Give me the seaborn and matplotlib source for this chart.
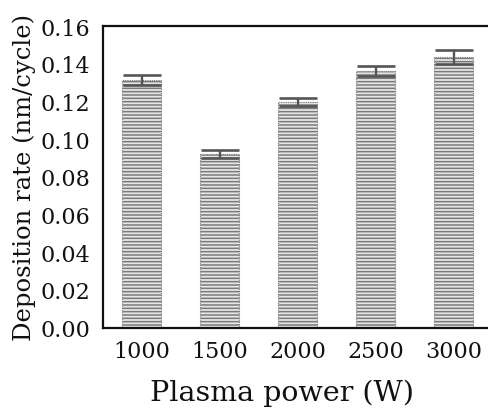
import matplotlib
matplotlib.use("Agg")
import matplotlib.pyplot as plt
import seaborn as sns
import pandas as pd

powers = ["1000", "1500", "2000", "2500", "3000"]
rates = [0.1312, 0.0920, 0.1198, 0.1362, 0.1436]
errors = [0.0026, 0.0021, 0.0021, 0.0027, 0.0038]
yticks = [0.00, 0.02, 0.04, 0.06, 0.08, 0.10, 0.12, 0.14, 0.16]

sns.set_style("white")
plt.rcParams['font.family'] = ['DejaVu Serif']
plt.rcParams['hatch.color'] = '#bababa'
plt.rcParams['hatch.linewidth'] = 1.1

df = pd.DataFrame({"power": powers, "rate": rates})

fig = plt.figure(figsize=(4.89, 4.10), dpi=100)
left_px, right_px = 102.7, 489.0
ax = fig.add_axes([left_px / 489, 81.3 / 410, (right_px - left_px) / 489, 301.7 / 410])

sns.barplot(data=df, x="power", y="rate", color="#e6e6e6", width=0.5,
            errorbar=None, ax=ax, saturation=1)
for p in ax.patches:
    p.set_hatch('-----')
    p.set_edgecolor('#7a7a7a')
    p.set_linestyle((0, (1, 1)))
    p.set_linewidth(0.8)

ax.errorbar(x=list(range(len(powers))), y=rates, yerr=errors, fmt='none',
            ecolor='#555555', elinewidth=1.7, capsize=13.5, capthick=1.9)

ax.set_xlim(-0.5, -0.5 + (right_px - left_px) / 78.06)
ax.set_ylim(0, 0.16)
ax.set_yticks(yticks)
ax.set_yticklabels([f"{v:.2f}" for v in yticks])
ax.yaxis.set_ticks_position('left')
ax.xaxis.set_ticks_position('bottom')
ax.tick_params(axis='both', length=0, labelsize=16, colors='#111111')
ax.tick_params(axis='y', pad=9)
ax.tick_params(axis='x', pad=9)
ax.set_xlabel("Plasma power (W)", fontsize=20.5, color='#111111')
ax.xaxis.set_label_coords(0.465, -0.168)
ax.set_ylabel("Deposition rate (nm/cycle)", fontsize=17.5, labelpad=3, color='#111111')
for name in ['top', 'left', 'bottom']:
    ax.spines[name].set_color('#111111')
    ax.spines[name].set_linewidth(1.6)
ax.spines['right'].set_visible(False)

fig.savefig("out.png", dpi=100)
